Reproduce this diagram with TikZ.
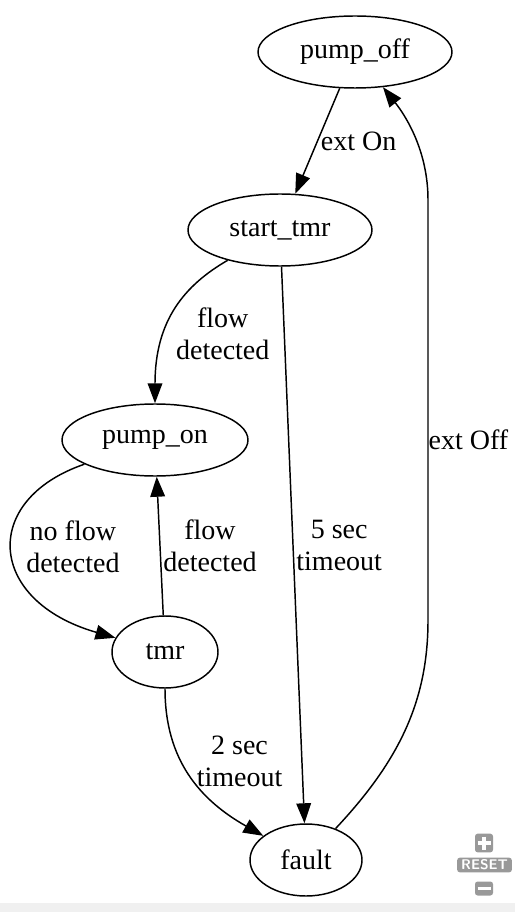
\documentclass[tikz,border=0pt]{standalone}
\usepackage{fontspec}
\setmainfont{Liberation Serif}
\usetikzlibrary{arrows.meta,shapes.geometric,positioning}

\begin{document}
\begin{tikzpicture}[x = 0.75pt, y = -0.75pt,
  state/.style = {draw, ellipse, line width = 1.1pt, inner sep = 0pt, minimum height = 54pt, font = \fontsize{21}{24}\selectfont},
  trans/.style = {-{Triangle[length = 15pt, width = 11pt]}, line width = 1.1pt},
  lbl/.style = {font = \fontsize{21}{24}\selectfont, align = center, inner sep = 2pt},
  zoombtn/.style = {fill = gray!80, rounded corners = 2pt, text = white, inner sep = 0pt, font = \sffamily\bfseries\fontsize{10.5}{10.5}\selectfont}]
\useasboundingbox (0,0) rectangle (515,912);
\fill[black!6] (0,903) rectangle (515,912);
% states
\node[state, minimum width = 145.5pt] (off) at (355,52) {pump\_off};
\node[state, minimum width = 138pt] (start) at (280,230) {start\_tmr};
\node[state, minimum width = 139.5pt] (on) at (155,440) {pump\_on};
\node[state, minimum width = 79.5pt] (tmr) at (165,652) {tmr};
\node[state, minimum width = 84pt] (fault) at (306,860) {fault};
% transitions
\draw[trans] (off) -- node[lbl, right, pos = 0.5]{ext On} (start);
\draw[trans] (start) .. controls (185,285) and (155,320) .. node[lbl, right = 6pt, pos = 0.66]{flow\\detected} (on);
\draw[trans] (start) -- node[lbl, right, pos = 0.5]{5 sec\\timeout} (fault);
\draw[trans] (on) .. controls (-20,500) and (-13,601) .. node[lbl, right = 8pt, pos = 0.48]{no flow\\detected} (tmr);
\draw[trans] (tmr) -- node[lbl, right, pos = 0.5]{flow\\detected} (on);
\draw[trans] (tmr) .. controls (165,760) and (200,800) .. node[lbl, right = 9pt, pos = 0.4]{2 sec\\timeout} (fault);
\draw[trans] (fault) .. controls (400,760) and (428,700) .. (428,620) -- node[lbl, right = -2pt, pos = 0.43]{ext Off} (428,200) .. controls (428,150) and (405,115) .. (off);
% zoom buttons
\node[zoombtn, minimum width = 13.5pt, minimum height = 14pt] (zin) at (484,843) {};
\draw[white, line width = 2.6pt] (477.5,843) -- (490.5,843) (484,836.5) -- (484,849.5);
\node[zoombtn, minimum width = 41pt, minimum height = 11pt] (zreset) at (484.5,865) {RESET};
\node[zoombtn, minimum width = 13.5pt, minimum height = 10.5pt] (zout) at (484,888.5) {};
\draw[white, line width = 2.6pt] (477.5,888.5) -- (490.5,888.5);
\end{tikzpicture}
\end{document}
